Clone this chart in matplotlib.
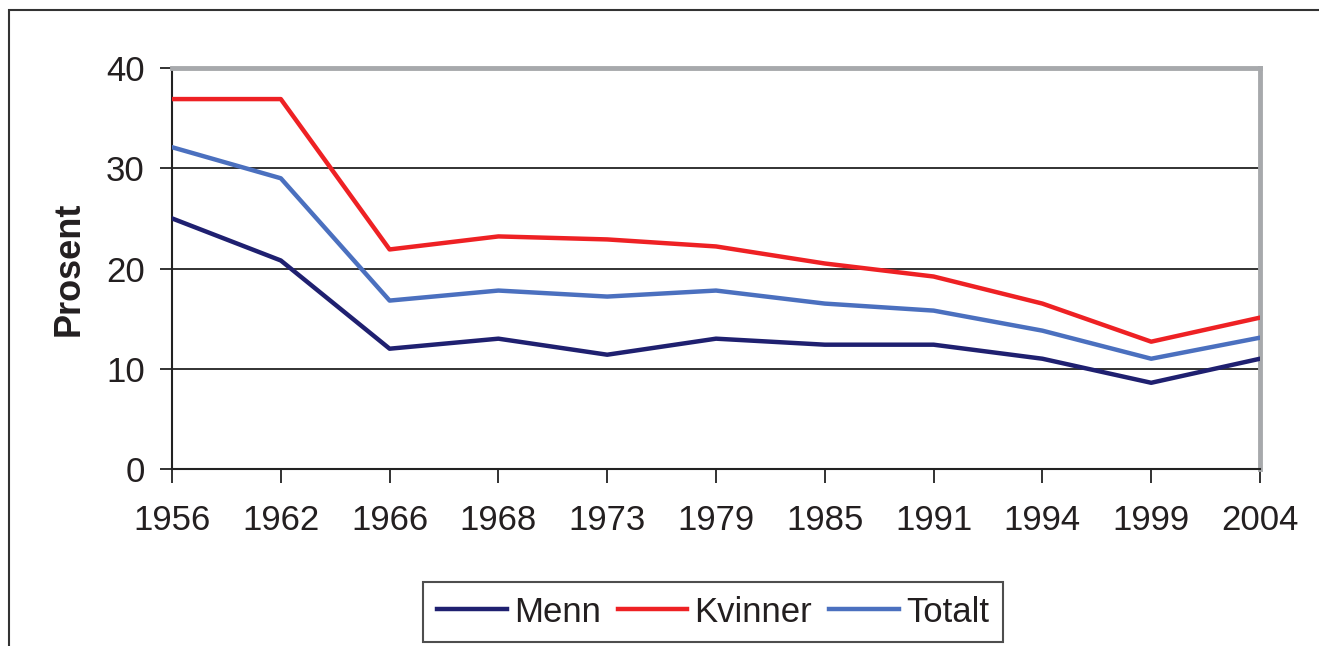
import matplotlib
matplotlib.use('Agg')
import matplotlib.pyplot as plt
from matplotlib.patches import Rectangle

years = ['1956', '1962', '1966', '1968', '1973', '1979', '1985', '1991', '1994', '1999', '2004']
menn = [25.0, 20.8, 12.0, 13.0, 11.4, 13.0, 12.4, 12.4, 11.0, 8.6, 11.0]
kvinner = [36.9, 36.9, 21.9, 23.2, 22.9, 22.2, 20.5, 19.2, 16.5, 12.7, 15.1]
totalt = [32.1, 29.0, 16.8, 17.8, 17.2, 17.8, 16.5, 15.8, 13.8, 11.0, 13.1]

plt.rcParams['font.family'] = ['Liberation Sans', 'DejaVu Sans']

W, H = 1319, 646
fig = plt.figure(figsize=(W / 100, H / 100), dpi=100)
ax = fig.add_axes([172 / W, 1 - 469 / H, (1260 - 172) / W, (469 - 68) / H])

x = list(range(len(years)))
ax.plot(x, menn, color='#1f2070', linewidth=3.2, label='Menn', zorder=3)
ax.plot(x, kvinner, color='#ee2124', linewidth=3.2, label='Kvinner', zorder=3)
ax.plot(x, totalt, color='#4b70bf', linewidth=3.2, label='Totalt', zorder=3)

ax.set_xlim(0, len(years) - 1)
ax.set_ylim(0, 40)
ax.set_yticks([0, 10, 20, 30, 40])
ax.set_xticks(x)
ax.set_xticklabels(years)
for yv in [10, 20, 30]:
    ax.axhline(yv, color='#222222', linewidth=1.3, zorder=1)

for side in ['left', 'bottom']:
    ax.spines[side].set_color('#222222')
    ax.spines[side].set_linewidth(1.5)
for side in ['top', 'right']:
    ax.spines[side].set_color('#a7a9ac')
    ax.spines[side].set_linewidth(3.5)

ax.tick_params(axis='y', direction='out', length=8.5, width=1.3,
               color='#222222', labelsize=25, pad=11, labelcolor='#231f20')
ax.tick_params(axis='x', direction='out', length=10, width=1.3,
               color='#222222', labelsize=25, pad=15, labelcolor='#231f20')
ax.set_ylabel('Prosent', fontsize=26, fontweight='bold', labelpad=14,
              color='#231f20')

fig.legend(loc='center', bbox_to_anchor=(713 / W, 1 - 612 / H), ncol=3,
           fontsize=25, frameon=True, fancybox=False, edgecolor='#222222',
           handlelength=2.0, handletextpad=0.2, columnspacing=0.5,
           borderpad=0.4, borderaxespad=0)
leg = fig.legends[0]
leg.get_frame().set_linewidth(1.5)
for t in leg.get_texts():
    t.set_color('#231f20')

fig.patches.append(Rectangle((9 / W, -0.1), 2, 1 - 10 / H + 0.1,
                             transform=fig.transFigure, fill=False,
                             edgecolor='#333333', linewidth=1.5))

fig.savefig('out.png', dpi=100)
